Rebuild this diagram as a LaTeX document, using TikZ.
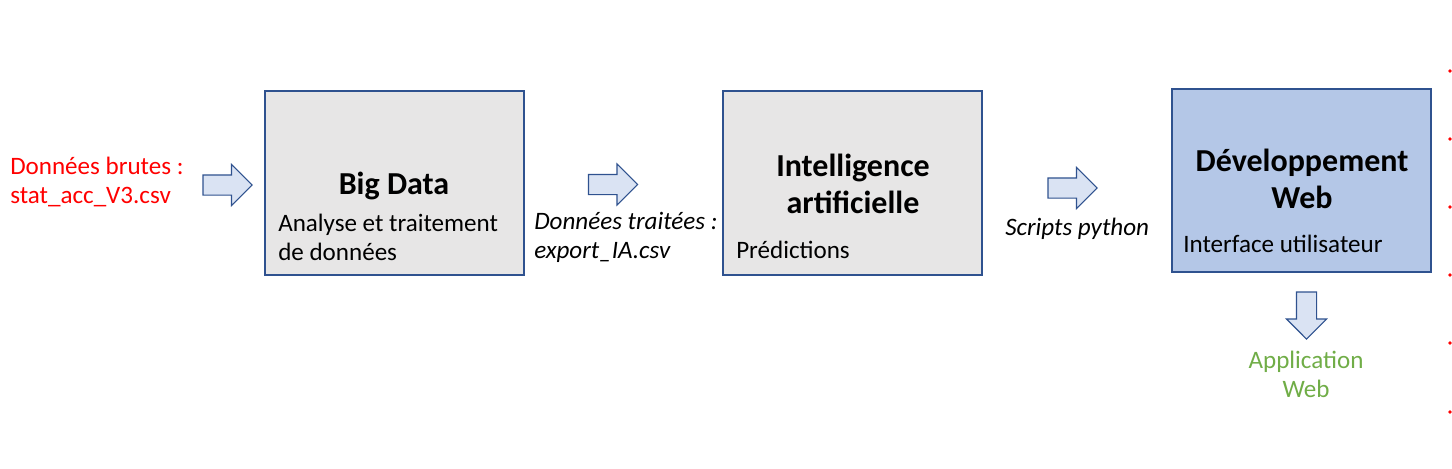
\documentclass[tikz,border=0pt]{standalone}
\usepackage{fontspec}
\setmainfont{Carlito}
\usetikzlibrary{shapes.arrows}

\definecolor{boxgray}{HTML}{E7E6E6}
\definecolor{boxblue}{HTML}{B4C7E7}
\definecolor{edgeblue}{HTML}{2F528F}
\definecolor{arrowfill}{HTML}{DAE3F3}
\definecolor{appgreen}{HTML}{70AD47}

\tikzset{
  stage/.style={draw=edgeblue, line width=1pt, fill=boxgray, minimum width=194.25pt, minimum height=138pt, inner sep=0pt},
  flow/.style={single arrow, draw=edgeblue, fill=arrowfill, line width=0.8pt, minimum height=36.75pt, inner sep=7.125pt, single arrow head extend=7.875pt},
  title/.style={font=\fontsize{24}{27.75}\selectfont\bfseries, align=center, inner sep=0pt, anchor=base},
  body/.style={font=\fontsize{18.8}{21.75}\selectfont, align=left, inner sep=0pt, anchor=base west},
}

\begin{document}
\begin{tikzpicture}[x=0.75pt, y=-0.75pt]
\useasboundingbox (0,0) rectangle (1452,468);
% stages
\node[stage] (bigdata) at (394.5,183) {};
\node[stage] (ia) at (852.5,183) {};
\node[stage, fill=boxblue, minimum height=137.25pt] (web) at (1301.5,180.5) {};
% titles (base = last line)
\node[title] (bigdatatitle) at (394,194) {Big Data};
\node[title] (iatitle) at (853,213) {Intelligence\\artificielle};
\node[title] (webtitle) at (1302,208) {Développement\\Web};
% descriptions
\node[body] (bigdatatext) at (278,260) {Analyse et traitement\\de données};
\node[body] (iatext) at (736,258) {Prédictions};
\node[body] (webtext) at (1183,252) {Interface utilisateur};
% data between stages
\node[body, text=red] (raw) at (10,203) {Données brutes :\\stat\_acc\_V3.csv};
\node[body, font=\fontsize{18.8}{21.75}\selectfont\itshape] (export) at (534,258) {Données traitées :\\export\_IA.csv};
\node[body, font=\fontsize{18.8}{21.75}\selectfont\itshape] (scripts) at (1005,235) {Scripts python};
\node[body, anchor=base, align=center, text=appgreen] (app) at (1306,397) {Application\\Web};
% block arrows
\node[flow] (rawarrow) at (222.5,185) {};
\node[flow] (exportarrow) at (608,184.5) {};
\node[flow] (scriptsarrow) at (1067.5,188) {};
\node[flow, shape border rotate=270, minimum height=35.25pt, single arrow head extend=7.5pt] (apparrow) at (1306.5,310.5) {};
% cut bullets on the right edge
\foreach \y in {71,139,207,275,343,412}
  \fill[red] (1450,\y) circle (1.4pt);
\end{tikzpicture}
\end{document}
